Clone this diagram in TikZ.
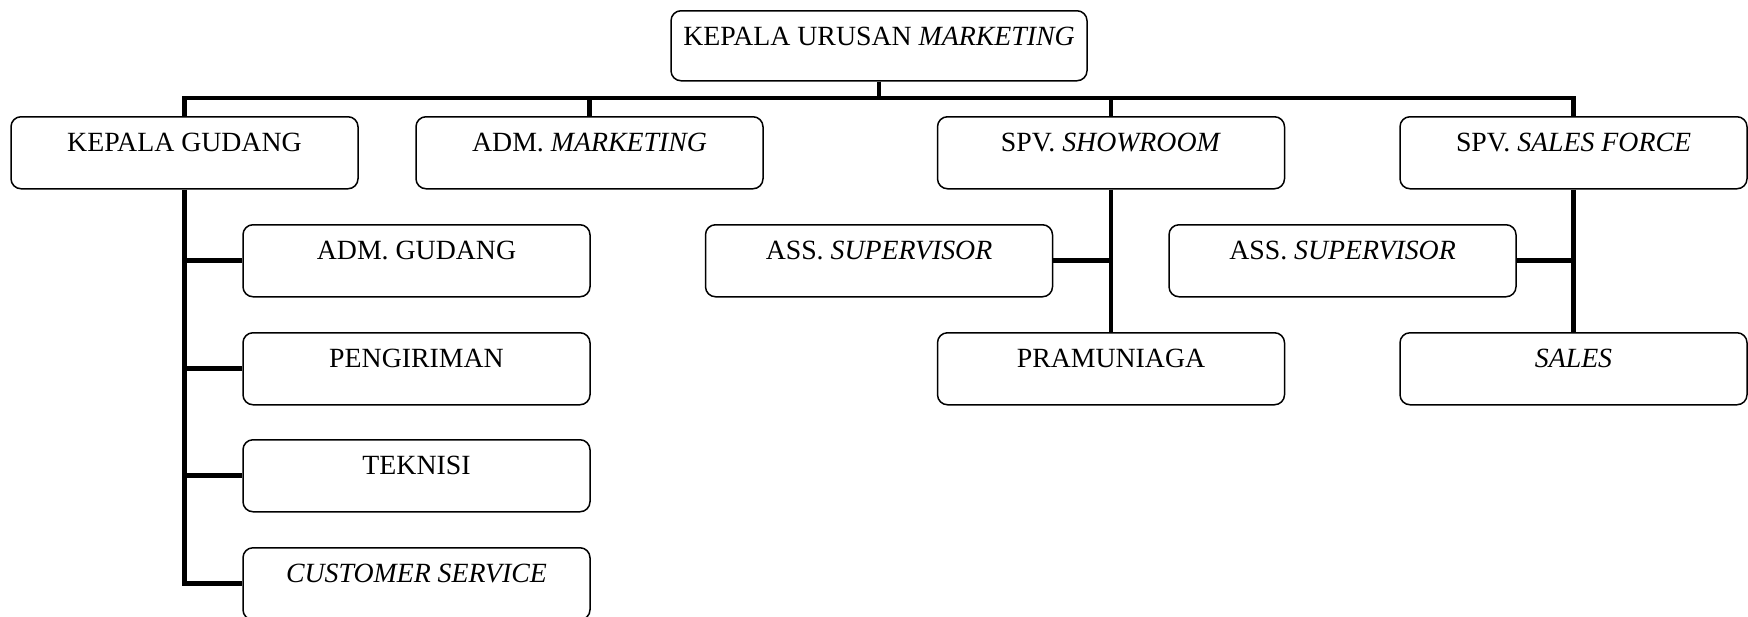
\documentclass[tikz,border=0pt]{standalone}
\usepackage{fontspec}
\setmainfont{Liberation Serif}
\begin{document}
\begin{tikzpicture}[x=0.5pt,y=-0.5pt,
  box/.style={draw,line width=0.75pt,rounded corners=5pt,inner sep=0pt,
    anchor=north,minimum width=173.5pt,text height=17.3pt,text depth=18.7pt,
    font=\fontsize{13.9pt}{17pt}\selectfont},
  conn/.style={line width=2.4pt,line join=miter}]
\useasboundingbox (0,0) rectangle (1748,616);
% head of the unit
\node[box,minimum width=208pt,text depth=17.7pt] (top) at (879,10) {KEPALA URUSAN \textit{MARKETING}};
% first level
\node[box] (kg) at (184.5,116) {KEPALA GUDANG};
\node[box] (am) at (589.5,116) {ADM. \textit{MARKETING}};
\node[box] (sh) at (1111,116) {SPV. \textit{SHOWROOM}};
\node[box] (sf) at (1573.5,116) {SPV. \textit{SALES FORCE}};
% under the warehouse head
\node[box] (ag) at (416.5,224) {ADM. GUDANG};
\node[box] (pg) at (416.5,332) {PENGIRIMAN};
\node[box] (tk) at (416.5,439) {TEKNISI};
\node[box] (cs) at (416.5,547) {\textit{CUSTOMER SERVICE}};
% under the showroom supervisor
\node[box] (as1) at (879,224) {ASS. \textit{SUPERVISOR}};
\node[box] (pr) at (1111,332) {PRAMUNIAGA};
% under the sales force supervisor
\node[box] (as2) at (1342.5,224) {ASS. \textit{SUPERVISOR}};
\node[box] (sa) at (1573.5,332) {\textit{SALES}};
% connectors
\coordinate (bar) at (0,98);
\draw[conn] (top.south) -- (top.south |- bar);
\draw[conn] (kg.north) |- (bar -| sf.north) -- (sf.north);
\draw[conn] (am.north |- bar) -- (am.north);
\draw[conn] (sh.north |- bar) -- (sh.north);
\draw[conn] (kg.south) |- (cs.west);
\draw[conn] (kg.south |- ag.west) -- (ag.west);
\draw[conn] (kg.south |- pg.west) -- (pg.west);
\draw[conn] (kg.south |- tk.west) -- (tk.west);
\draw[conn] (sh.south) -- (pr.north);
\draw[conn] (as1.east) -- (as1.east -| sh.south);
\draw[conn] (sf.south) -- (sa.north);
\draw[conn] (as2.east) -- (as2.east -| sf.south);
\end{tikzpicture}
\end{document}
